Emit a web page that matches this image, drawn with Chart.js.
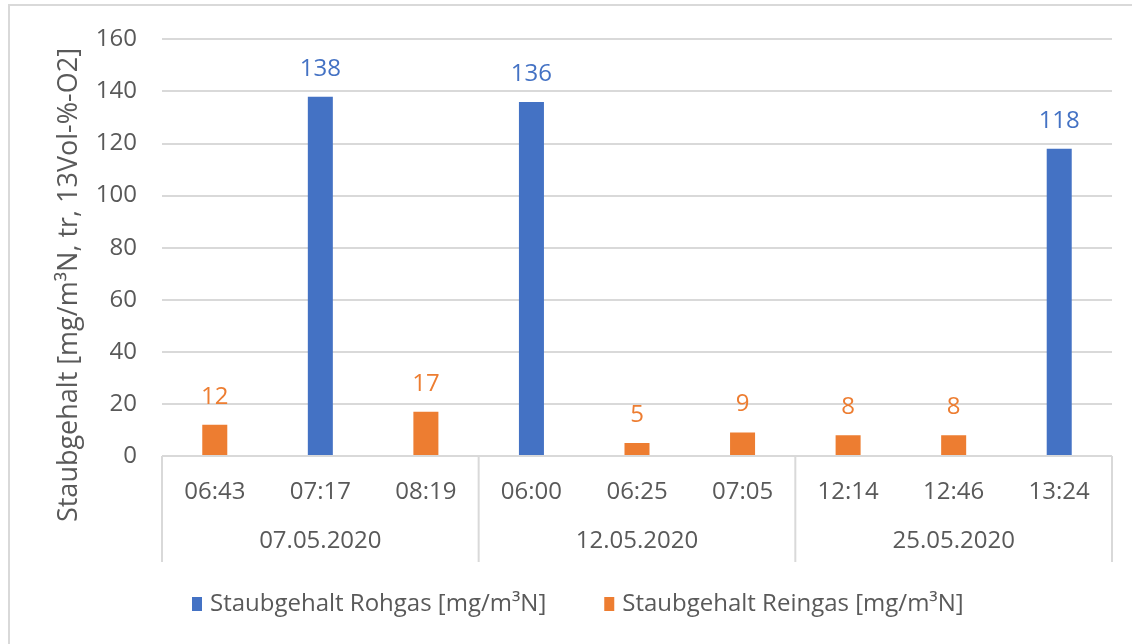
<!DOCTYPE html>
<html lang="de">
<head>
<meta charset="UTF-8">
<title>Staubgehalt Rohgas / Reingas</title>
<script src="https://cdn.jsdelivr.net/npm/chart.js"></script>
<style>
    body { margin: 0; background: #fff; }
    #wrap { position: relative; width: 1132px; height: 644px; overflow: hidden; }
    #rahmen { position: absolute; left: 8px; top: 4px; width: 1300px; height: 800px;
              border-left: 2px solid #d9d9d9; border-top: 2px solid #d9d9d9; }
    canvas { position: absolute; left: 0; top: 0; }
</style>
</head>
<body>
<div id="wrap">
    <div id="rahmen"></div>
    <canvas id="chart" width="1132" height="644"></canvas>
</div>
<script>
// Daten
const zeiten = ['06:43', '07:17', '08:19', '06:00', '06:25', '07:05', '12:14', '12:46', '13:24'];
const datum = ['07.05.2020', '12.05.2020', '25.05.2020'];
const gruppenGroesse = [3, 3, 3];
const rohgas = [null, 138, null, 136, null, null, null, null, 118];
const reingas = [12, null, 17, null, 5, 9, 8, 8, null];
const yTicks = [0, 20, 40, 60, 80, 100, 120, 140, 160];
const achsenTitel = 'Staubgehalt [mg/m³N, tr, 13Vol-%-O2]';

const BLAU = '#4472C4';
const ORANGE = '#ED7D31';
const GRAU = '#595959';
const LINIE = '#d9d9d9';
const SCHRIFT = '"Open Sans", sans-serif';
const GROESSE = 24;

// Zusatzelemente: Gruppenachse, Werte, Achsentitel, Legende
const extras = {
    id: 'extras',
    afterDraw(chart) {
        const ctx = chart.ctx;
        const x = chart.scales.x;
        const a = chart.chartArea;
        const achsenUnten = 562;
        ctx.save();

        // Trennlinien der Datumsgruppen
        const halb = (x.getPixelForValue(1) - x.getPixelForValue(0)) / 2;
        const grenzen = [x.getPixelForValue(0) - halb];
        let idx = 0;
        gruppenGroesse.forEach(n => {
            idx += n;
            grenzen.push(x.getPixelForValue(idx - 1) + halb);
        });
        ctx.strokeStyle = LINIE;
        ctx.lineWidth = 2;
        grenzen.forEach(g => {
            ctx.beginPath();
            ctx.moveTo(g, a.bottom);
            ctx.lineTo(g, achsenUnten);
            ctx.stroke();
        });

        // Datum
        ctx.font = GROESSE + 'px ' + SCHRIFT;
        ctx.fillStyle = GRAU;
        ctx.textAlign = 'center';
        ctx.textBaseline = 'middle';
        datum.forEach((d, i) => {
            ctx.fillText(d, (grenzen[i] + grenzen[i + 1]) / 2, 541);
        });

        // Datenbeschriftungen
        chart.data.datasets.forEach((ds, i) => {
            const meta = chart.getDatasetMeta(i);
            ctx.fillStyle = ds.backgroundColor;
            meta.data.forEach((bar, j) => {
                if (ds.data[j] == null) return;
                ctx.fillText(String(ds.data[j]), bar.x, bar.y - 28);
            });
        });

        // y-Achsentitel
        ctx.save();
        ctx.font = '27px ' + SCHRIFT;
        ctx.translate(69, 285);
        ctx.rotate(-Math.PI / 2);
        ctx.fillStyle = GRAU;
        ctx.fillText(achsenTitel, 0, 0);
        ctx.restore();

        // Legende
        let lx = 192;
        const ly = 604;
        ctx.textAlign = 'left';
        chart.data.datasets.forEach(ds => {
            ctx.fillStyle = ds.backgroundColor;
            ctx.fillRect(lx, ly - 7, 10, 14);
            lx += 18;
            ctx.fillStyle = GRAU;
            ctx.fillText(ds.label, lx, ly);
            lx += ctx.measureText(ds.label).width + 58;
        });
        ctx.restore();
    }
};

const ctx = document.getElementById('chart').getContext('2d');
new Chart(ctx, {
    type: 'bar',
    data: {
        labels: zeiten,
        datasets: [
            { label: 'Staubgehalt Rohgas [mg/m³N]', data: rohgas, backgroundColor: BLAU },
            { label: 'Staubgehalt Reingas [mg/m³N]', data: reingas, backgroundColor: ORANGE }
        ]
    },
    options: {
        responsive: false,
        animation: false,
        events: [],
        datasets: { bar: { categoryPercentage: 1, barPercentage: 0.237 } },
        layout: { padding: { left: 0, right: 20, top: 38, bottom: 82 } },
        plugins: {
            legend: { display: false },
            tooltip: { enabled: false }
        },
        scales: {
            x: {
                stacked: true,
                grid: { display: false },
                border: { display: false },
                ticks: { color: GRAU, font: { family: SCHRIFT, size: GROESSE }, padding: 14,
                         maxRotation: 0, autoSkip: false },
                afterFit(s) { s.height = 106; }
            },
            y: {
                stacked: true,
                min: 0,
                max: 160,
                afterBuildTicks(s) { s.ticks = yTicks.map(v => ({ value: v })); },
                grid: { color: LINIE, lineWidth: 2, drawTicks: false },
                border: { display: false },
                ticks: { color: GRAU, font: { family: SCHRIFT, size: GROESSE }, padding: 25 },
                afterFit(s) { s.width = 162; }
            }
        }
    },
    plugins: [extras]
});
</script>
</body>
</html>
